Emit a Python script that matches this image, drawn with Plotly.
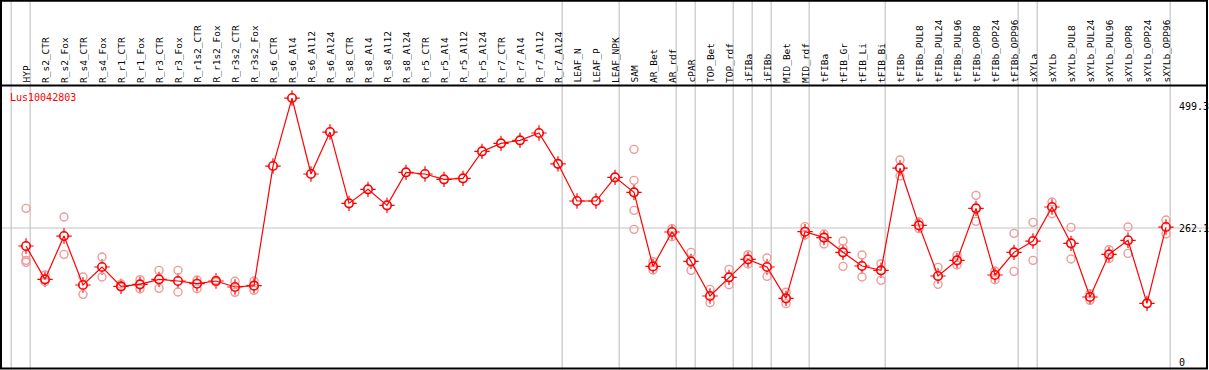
import plotly.graph_objects as go

gene = "Lus10042803"

categories = [
    "HYP", "R_s2_CTR", "R_s2_Fox", "R_s4_CTR", "R_s4_Fox", "R_r1_CTR", "R_r1_Fox",
    "R_r3_CTR", "R_r3_Fox", "R_r1s2_CTR", "R_r1s2_Fox", "R_r3s2_CTR", "R_r3s2_Fox",
    "R_s6_CTR", "R_s6_Al4", "R_s6_Al12", "R_s6_Al24", "R_s8_CTR", "R_s8_Al4",
    "R_s8_Al12", "R_s8_Al24", "R_r5_CTR", "R_r5_Al4", "R_r5_Al12", "R_r5_Al24",
    "R_r7_CTR", "R_r7_Al4", "R_r7_Al12", "R_r7_Al24", "LEAF_N", "LEAF_P", "LEAF_NPK",
    "SAM", "AR_Bet", "AR_rdf", "cPAR", "TOP_Bet", "TOP_rdf", "iFIBa", "iFIBb",
    "MID_Bet", "MID_rdf", "tFIBa", "tFIB_Gr", "tFIB_Li", "tFIB_Bi", "tFIBb",
    "tFIBb_PUL8", "tFIBb_PUL24", "tFIBb_PUL96", "tFIBb_OPP8", "tFIBb_OPP24",
    "tFIBb_OPP96", "sXYLa", "sXYLb", "sXYLb_PUL8", "sXYLb_PUL24", "sXYLb_PUL96",
    "sXYLb_OPP8", "sXYLb_OPP24", "sXYLb_OPP96",
]

# group sizes (separators drawn after each group)
group_sizes = [1, 28, 3, 3, 1, 2, 1, 1, 2, 4, 7, 1, 7]

mean_values = [
    226.9, 161.7, 246.4, 150.6, 185.8, 148.0, 151.9, 161.7, 158.4, 153.2, 158.4,
    146.7, 149.3, 383.3, 516.3, 367.7, 449.8, 310.3, 337.7, 306.4, 371.0, 367.7,
    357.3, 359.2, 412.0, 427.7, 433.5, 447.9, 387.6, 314.9, 314.9, 361.2, 331.8,
    187.0, 254.3, 196.9, 129.1, 165.6, 200.8, 185.8, 124.5, 254.9, 243.2, 214.5,
    187.8, 179.3, 379.4, 267.3, 168.2, 198.8, 300.5, 170.2, 214.5, 236.6, 303.2,
    232.1, 127.1, 210.6, 238.0, 114.7, 264.0,
]

replicate_values = [
    [300.5, 210.6, 198.8, 194.9], [170.2, 157.1], [283.6, 210.6], [166.2, 132.3],
    [205.4, 166.2], [152.6, 146.7], [161.0, 142.8], [179.3, 144.1], [179.3, 136.9],
    [160.4, 143.4], [160.4, 156.5], [157.8, 136.3], [158.4, 140.2],
    [], [], [], [], [], [], [], [], [], [], [], [], [], [], [], [],
    [], [], [],
    [415.9, 355.3, 296.6, 259.5], [196.2, 179.9], [260.8, 245.1], [214.5, 179.3],
    [142.1, 116.0], [181.2, 151.2], [209.9, 191.7], [203.4, 167.5], [136.3, 114.1],
    [264.7, 248.4], [250.3, 230.8], [236.6, 222.3, 187.1], [209.3, 166.2],
    [192.3, 159.7], [395.1, 363.8], [273.8, 260.8], [185.1, 151.9], [208.6, 189.7],
    [326.0, 275.1], [178.0, 161.0], [251.6, 177.3], [273.2, 198.8], [312.9, 290.1],
    [263.4, 201.4], [133.6, 120.6], [219.7, 202.1], [264.0, 212.5], [],
    [277.7, 250.3],
]

y_tick_values = [0, 262.1, 499.3]
y_tick_labels = ["0", "262.1", "499.3"]

# ---- geometry ----
W, H = 1209, 370
X0_PX, STEP_PX = 26.0, 19.0        # pixel of first column, spacing
Y0_PX, PX_PER_UNIT = 362.0, 0.51125  # pixel of value 0, scale

def xdata(px):
    return 1 + (px - X0_PX) / STEP_PX

def ydata(px):
    return (Y0_PX - px) / PX_PER_UNIT

x_idx = list(range(1, len(categories) + 1))

RED = "#ff0000"
PINK = "#f09a9a"
GRAY = "#c4c4c4"

fig = go.Figure()

# tick crosses behind mean markers
fig.add_trace(go.Scatter(x=x_idx, y=mean_values, mode="markers", hoverinfo="skip",
                         marker=dict(symbol="cross-thin-open", size=11, color=RED,
                                     line=dict(color=RED, width=1.2)),
                         cliponaxis=False, showlegend=False))
fig.add_trace(go.Scatter(x=x_idx, y=mean_values, mode="markers", hoverinfo="skip",
                         marker=dict(symbol="circle", size=7, color="white",
                                     line=dict(width=0)),
                         cliponaxis=False, showlegend=False))

rx, ry = [], []
for i, reps in zip(x_idx, replicate_values):
    for v in reps:
        rx.append(i)
        ry.append(v)
fig.add_trace(go.Scatter(x=rx, y=ry, mode="markers",
                         marker=dict(symbol="circle-open", size=8, color=PINK,
                                     line=dict(color=PINK, width=1.4)),
                         cliponaxis=False, showlegend=False))

fig.add_trace(go.Scatter(x=x_idx, y=mean_values, mode="lines",
                         line=dict(color=RED, width=1.2),
                         cliponaxis=False, showlegend=False))
fig.add_trace(go.Scatter(x=x_idx, y=mean_values, mode="markers",
                         marker=dict(symbol="circle-open", size=8.5, color=RED,
                                     line=dict(color=RED, width=1.6)),
                         cliponaxis=False, showlegend=False))

shapes = []
# group separators
bounds = [0]
for g in group_sizes:
    bounds.append(bounds[-1] + g)
for b in bounds:
    xs = b + 0.22
    shapes.append(dict(type="line", xref="x", yref="paper", x0=xs, x1=xs,
                       y0=0, y1=1, line=dict(color=GRAY, width=1.2), layer="below"))
# horizontal reference line
shapes.append(dict(type="line", xref="paper", yref="y", x0=0, x1=1,
                   y0=y_tick_values[1], y1=y_tick_values[1],
                   line=dict(color=GRAY, width=1.2), layer="below"))
# header line
shapes.append(dict(type="line", xref="paper", yref="paper", x0=0, x1=1207 / W,
                   y0=1 - 85.5 / H, y1=1 - 85.5 / H, line=dict(color="black", width=2)))
# outer frame
shapes.append(dict(type="rect", xref="paper", yref="paper",
                   x0=1 / W, x1=1207 / W, y0=1 - 368.5 / H, y1=1 - 0.8 / H,
                   line=dict(color="black", width=2)))

annotations = []
for i, name in zip(x_idx, categories):
    annotations.append(dict(x=i, y=ydata(84), xref="x", yref="y", text=name,
                            textangle=-90, xanchor="center", yanchor="bottom",
                            showarrow=False, borderpad=0,
                            font=dict(family="DejaVu Sans Mono", size=9.5, color="black")))
for v, t in zip(y_tick_values, y_tick_labels):
    annotations.append(dict(x=xdata(1178), y=v, xref="x", yref="y", text=t,
                            xanchor="left", yanchor="middle", showarrow=False,
                            borderpad=0,
                            font=dict(family="DejaVu Sans Mono", size=10, color="black")))
annotations.append(dict(x=xdata(9), y=ydata(97), xref="x", yref="y", text=gene,
                        xanchor="left", yanchor="middle", showarrow=False, borderpad=0,
                        font=dict(family="DejaVu Sans Mono", size=10, color=RED)))

fig.update_layout(
    width=W, height=H,
    margin=dict(l=0, r=0, t=0, b=0, pad=0, autoexpand=False),
    paper_bgcolor="white", plot_bgcolor="white",
    xaxis=dict(range=[xdata(0), xdata(W)], visible=False, fixedrange=True),
    yaxis=dict(range=[ydata(H), ydata(0)], visible=False, fixedrange=True),
    shapes=shapes, annotations=annotations, showlegend=False,
)

fig.write_html(
    "out.html",
    config={"displayModeBar": False, "staticPlot": True},
    post_script="document.body.style.margin='0';document.body.style.overflow='hidden';",
)
